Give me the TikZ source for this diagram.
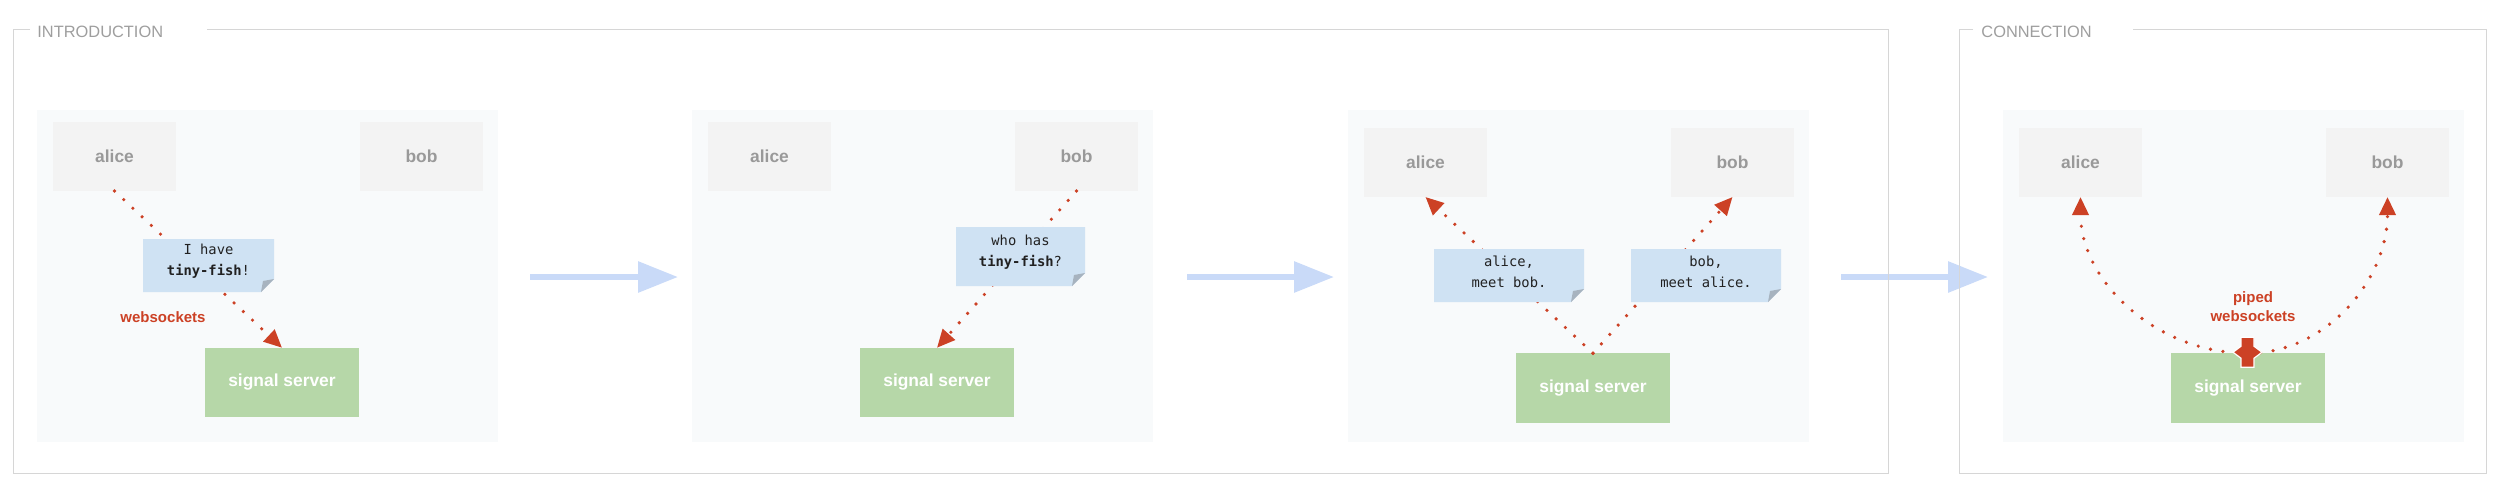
\documentclass[tikz,border=0pt]{standalone}
\usepackage{fontspec}
\setmainfont{Liberation Sans}
\newfontfamily\monof{DejaVu Sans Mono}
\usetikzlibrary{arrows.meta,calc}
\definecolor{framegray}{HTML}{D6D6D6}
\definecolor{titlegray}{HTML}{9E9E9E}
\definecolor{panelbg}{HTML}{F8FAFB}
\definecolor{boxgray}{HTML}{F3F3F3}
\definecolor{boxtext}{HTML}{999999}
\definecolor{servergreen}{HTML}{B6D7A8}
\definecolor{noteblue}{HTML}{CFE2F3}
\definecolor{foldgray}{HTML}{A7B3BF}
\definecolor{sigred}{HTML}{CC4125}
\definecolor{arrblue}{HTML}{C9DAF8}
\definecolor{notetextc}{HTML}{212121}
\newcommand\mknote[6]{%
  \node[inner sep=0pt, outer sep=0pt, minimum width=#4pt, minimum height=#5pt] (#1) at (#2,#3) {};
  \fill[noteblue] (#1.north west) -- (#1.north east) -- ([yshift=6.5pt]#1.south east) -- ([xshift=-6.5pt]#1.south east) -- (#1.south west) -- cycle;
  \fill[foldgray] ([yshift=6.5pt]#1.south east) -- ([xshift=-6.5pt]#1.south east) -- ([shift={(-5.5pt,5.5pt)}]#1.south east) -- cycle;
  \node[notetext] (#1t) at ([yshift=2pt]#1.center) {#6};
}
\begin{document}
\begin{tikzpicture}[x=0.5pt,y=-0.5pt,
  frame/.style={draw=framegray, line width=0.45pt},
  title/.style={text=titlegray, inner sep=0pt, anchor=west, font=\fontsize{8.2pt}{10pt}\selectfont},
  panel/.style={fill=panelbg, inner sep=0pt, outer sep=0pt, minimum width=230.5pt, minimum height=166.25pt},
  person/.style={fill=boxgray, text=boxtext, inner sep=0pt, outer sep=0pt, minimum width=61.5pt, minimum height=34.5pt, font=\fontsize{8.7pt}{10pt}\selectfont\bfseries},
  server/.style={fill=servergreen, text=white, inner sep=0pt, outer sep=0pt, minimum width=77pt, minimum height=34.75pt, font=\fontsize{8.7pt}{10pt}\selectfont\bfseries},
  notetext/.style={align=center, inner sep=0pt, text=notetextc, font=\monof\fontsize{6.9pt}{10.5pt}\selectfont},
  redlbl/.style={text=sigred, inner sep=0pt, align=center, font=\fontsize{7.5pt}{9.5pt}\selectfont\bfseries},
  sig/.style={draw=sigred, line width=1.8pt, line cap=round, dash pattern=on 0pt off 6.3pt, -{Triangle[length=9pt,width=8pt]}},
  bigarr/.style={draw=arrblue, line width=3pt, -{Triangle[length=20pt,width=15pt]}}
]
\useasboundingbox (0,0) rectangle (2500,500);

% panels
\node[panel] (p1) at (267.5,275.75) {};
\node[panel] (p2) at (922.5,275.75) {};
\node[panel] (p3) at (1578.5,275.75) {};
\node[panel] (p4) at (2233.5,275.75) {};

% big blue arrows
\coordinate (g1s) at (530,277); \coordinate (g1e) at (678,277);
\coordinate (g2s) at (1187,277); \coordinate (g2e) at (1334,277);
\coordinate (g3s) at (1841,277); \coordinate (g3e) at (1988,277);
\draw[bigarr] (g1s) -- (g1e);
\draw[bigarr] (g2s) -- (g2e);
\draw[bigarr] (g3s) -- (g3e);

% frames
\draw[frame] (30,29) -- (13,29) -- (13,473) -- (1888,473) -- (1888,29) -- (207,29);
\node[title] (t1) at (37,32) {INTRODUCTION};
\draw[frame] (1973,29) -- (1959,29) -- (1959,473) -- (2486,473) -- (2486,29) -- (2133,29);
\node[title] (t2) at (1981,32) {CONNECTION};

% panel 1
\node[person] (a1) at (114.5,156.5) {alice};
\node[person] (b1) at (421.5,156.5) {bob};
\node[server] (s1) at (282,382.5) {signal server};
\draw[sig] (a1.south) -- (s1.north);
\mknote{n1}{208.5}{265.5}{65.5}{26.5}{I have\\\textbf{tiny-fish}!}
\node[redlbl] (ws1) at (163,317) {websockets};

% panel 2
\node[person] (a2) at (769.5,156.5) {alice};
\node[person] (b2) at (1076.5,156.5) {bob};
\node[server] (s2) at (937,382.5) {signal server};
\draw[sig] (b2.south) -- (s2.north);
\mknote{n2}{1020.5}{256.5}{64.5}{29.5}{who has\\\textbf{tiny-fish}?}

% panel 3
\node[person] (a3) at (1425.5,162.5) {alice};
\node[person] (b3) at (1732.5,162.5) {bob};
\node[server] (s3) at (1593,388) {signal server};
\draw[sig] (s3.north) -- (a3.south);
\draw[sig] (s3.north) -- (b3.south);
\mknote{n3}{1509}{275.5}{75}{26.5}{alice,\\meet bob.}
\mknote{n4}{1706}{275.5}{75}{26.5}{bob,\\meet alice.}

% panel 4
\node[person] (a4) at (2080.5,162.5) {alice};
\node[person] (b4) at (2387.5,162.5) {bob};
\node[server] (s4) at (2248,388) {signal server};
\draw[sig] (s4.north) .. controls +(-92,0) and +(0,84) .. (a4.south);
\draw[sig] (s4.north) .. controls +(77,0) and +(0,84) .. (b4.south);
\begin{scope}[shift={(s4.north)}]
\draw[fill=sigred, draw=white, line width=0.6pt] (-15,-1) -- (-7,-7) -- (-7,-16) -- (6,-16) -- (6,-7) -- (14,-1) -- (6,5) -- (6,14) -- (-7,14) -- (-7,5) -- cycle;
\end{scope}
\node[redlbl] (ws4) at (2253,306.5) {piped\\websockets};
\end{tikzpicture}
\end{document}
